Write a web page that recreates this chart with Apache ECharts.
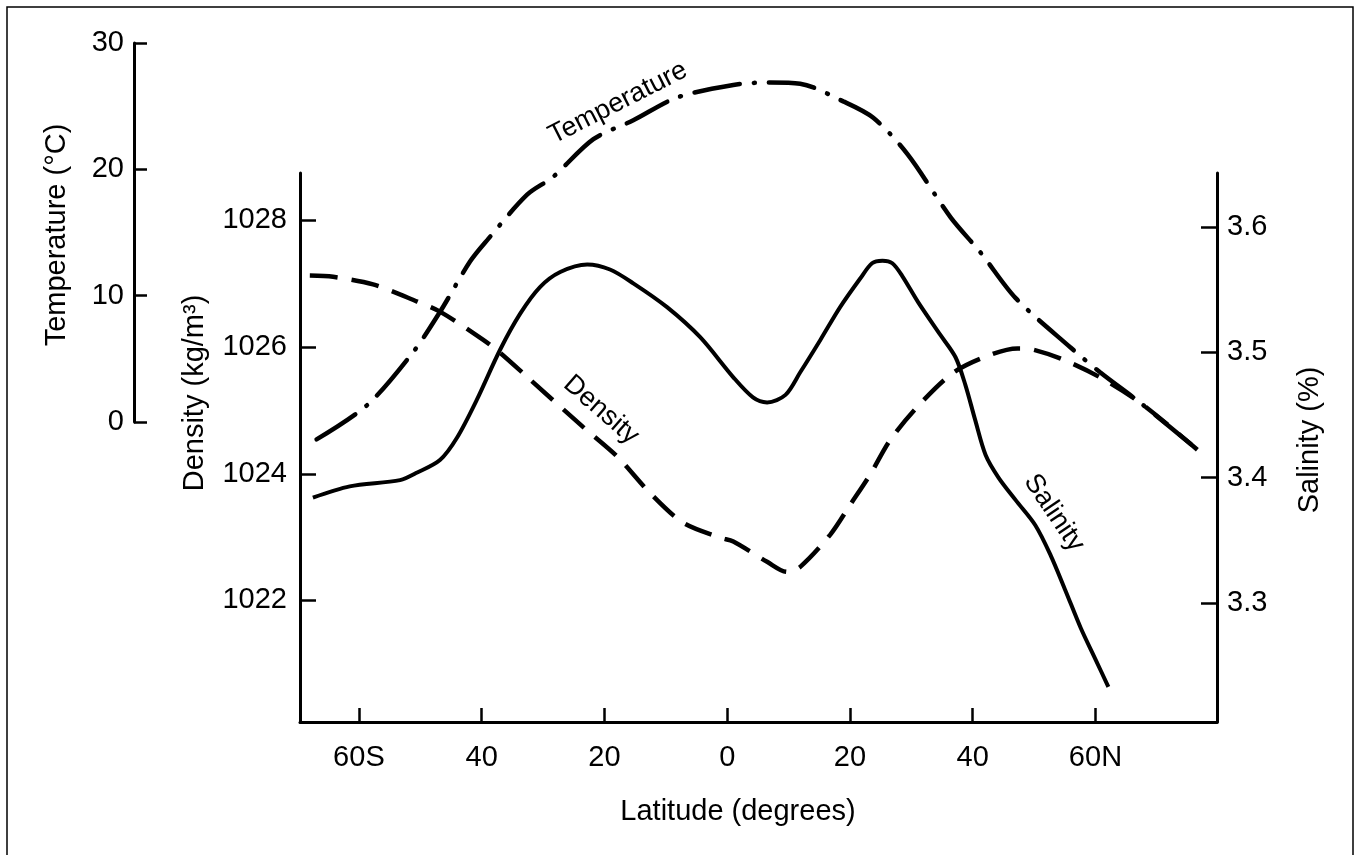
<!DOCTYPE html>
<html>
<head>
<meta charset="utf-8">
<script src="https://cdn.jsdelivr.net/npm/echarts@6/dist/echarts.min.js"></script>
<style>
  html, body { margin: 0; padding: 0; background: #fff; }
  #chart { width: 1362px; height: 855px; }
</style>
</head>
<body>
<div id="chart"></div>
<script>
// latitude in degrees, south negative
const tempLat = [-66.9, -58.7, -51.2, -46.8, -41.9, -39.1, -32.6, -28.4, -21.8, -15.3, -8.2, 1.0, 7.0, 11.9, 18.9, 23.8, 29.4, 36.4, 41.3, 47.0, 55.9, 60.8, 67.3, 76.6];
const tempVals = [-1.4, 1.3, 5.5, 8.7, 12.7, 14.4, 18.0, 19.4, 22.4, 23.9, 25.7, 26.7, 26.9, 26.8, 25.4, 24.1, 21.2, 16.2, 13.4, 9.8, 5.9, 3.9, 1.5, -2.2];

const densLat = [-68.0, -64.2, -57.7, -50.5, -46.8, -39.8, -37.0, -32.6, -23.5, -17.9, -12.6, -7.2, -1.1, 1.0, 6.5, 9.8, 11.9, 16.8, 20.1, 23.3, 26.6, 31.0, 36.9, 42.9, 47.3, 49.9, 54.8, 60.8, 67.3, 76.6];
const densVals = [1027.13, 1027.11, 1026.99, 1026.72, 1026.56, 1026.12, 1025.91, 1025.53, 1024.74, 1024.27, 1023.70, 1023.23, 1022.99, 1022.93, 1022.61, 1022.45, 1022.53, 1023.04, 1023.52, 1023.99, 1024.54, 1025.06, 1025.60, 1025.88, 1025.98, 1025.96, 1025.80, 1025.52, 1025.12, 1024.38];

const salLat = [-67.5, -61.5, -53.3, -50.5, -46.8, -44.0, -40.8, -37.0, -33.7, -30.5, -27.2, -22.8, -19.1, -15.3, -9.8, -4.4, 1.0, 4.2, 6.5, 9.5, 11.9, 15.2, 18.4, 21.7, 23.6, 25.3, 26.9, 28.5, 31.1, 34.7, 37.2, 38.8, 40.4, 42.1, 44.2, 47.0, 50.2, 52.7, 55.1, 57.6, 60.0, 62.1];
const salVals = [3.384, 3.393, 3.398, 3.404, 3.414, 3.432, 3.462, 3.502, 3.531, 3.552, 3.564, 3.570, 3.566, 3.555, 3.536, 3.512, 3.480, 3.464, 3.460, 3.466, 3.484, 3.510, 3.536, 3.559, 3.571, 3.573, 3.571, 3.561, 3.540, 3.514, 3.496, 3.474, 3.446, 3.418, 3.400, 3.382, 3.362, 3.338, 3.310, 3.280, 3.255, 3.233];

const latTicks = [-60, -40, -20, 0, 20, 40, 60];
const densTicks = [1022, 1024, 1026, 1028];
const salTicks = [3.3, 3.4, 3.5, 3.6];

const FONT = 'Liberation Sans, Arial, Helvetica, sans-serif';
const zip = (xs, ys) => xs.map((x, i) => [x, ys[i]]);

function latLabel(v) {
    if (v === -60) return '60S';
    if (v === 60) return '60N';
    return String(Math.abs(v));
}

const axisLine = { onZero: false, lineStyle: { color: '#000', width: 3 } };
const tickStyle = { color: '#000', width: 2.5 };
const labelStyle = { color: '#000', fontSize: 29, fontFamily: FONT };

const chart = echarts.init(document.getElementById('chart'));

chart.setOption({
    animation: false,
    backgroundColor: '#fff',
    grid: [
        { left: 300, top: 173, width: 917, height: 549 },
        { left: 134, top: 43, width: 10, height: 379 }
    ],
    xAxis: [
        {
            type: 'value', gridIndex: 0, min: -69.6, max: 79.8,
            axisLine: axisLine,
            axisTick: { show: true, inside: true, length: 14, lineStyle: tickStyle, customValues: latTicks },
            axisLabel: Object.assign({ margin: 21, customValues: latTicks, formatter: latLabel }, labelStyle),
            splitLine: { show: false }
        },
        { type: 'value', gridIndex: 1, show: false, min: 0, max: 1 }
    ],
    yAxis: [
        {   // density
            type: 'value', gridIndex: 0, position: 'left', min: 1020.08, max: 1028.75,
            axisLine: axisLine,
            axisTick: { show: true, inside: true, length: 16, lineStyle: tickStyle, customValues: densTicks },
            axisLabel: Object.assign({ margin: 13, customValues: densTicks, formatter: v => String(v) }, labelStyle),
            splitLine: { show: false }
        },
        {   // salinity
            type: 'value', gridIndex: 0, position: 'right', min: 3.205, max: 3.643,
            axisLine: axisLine,
            axisTick: { show: true, inside: true, length: 16, lineStyle: tickStyle, customValues: salTicks },
            axisLabel: Object.assign({ margin: 10, customValues: salTicks, formatter: v => v.toFixed(1) }, labelStyle),
            splitLine: { show: false }
        },
        {   // temperature scale on the main plot, not drawn
            type: 'value', gridIndex: 0, position: 'left', show: false, min: -23.81, max: 19.72
        },
        {   // temperature axis drawn at the far left
            type: 'value', gridIndex: 1, position: 'left', min: 0, max: 30, interval: 10,
            axisLine: axisLine,
            axisTick: { show: true, inside: true, length: 13, lineStyle: tickStyle },
            axisLabel: Object.assign({ margin: 10 }, labelStyle),
            splitLine: { show: false }
        }
    ],
    series: [
        {
            name: 'Temperature', type: 'line', xAxisIndex: 0, yAxisIndex: 2,
            data: zip(tempLat, tempVals),
            smooth: 0.3, symbol: 'none', clip: false,
            lineStyle: { color: '#000', width: 4.5, type: [46, 14, 1, 14], cap: 'round' }
        },
        {
            name: 'Density', type: 'line', xAxisIndex: 0, yAxisIndex: 0,
            data: zip(densLat, densVals),
            smooth: 0.3, symbol: 'none', clip: false,
            lineStyle: { color: '#000', width: 4.5, type: [28, 14] }
        },
        {
            name: 'Salinity', type: 'line', xAxisIndex: 0, yAxisIndex: 1,
            data: zip(salLat, salVals),
            smooth: 0.3, symbol: 'none', clip: false,
            lineStyle: { color: '#000', width: 4 }
        }
    ],
    graphic: [
        { type: 'rect', shape: { x: 7, y: 7, width: 1346, height: 900 }, style: { fill: 'none', stroke: '#000', lineWidth: 1.5 }, silent: true },
        { type: 'text', x: 57, y: 235, rotation: Math.PI / 2, style: { text: 'Temperature (°C)', fontSize: 29, fontFamily: FONT, fill: '#000', align: 'center', verticalAlign: 'middle' } },
        { type: 'text', x: 195, y: 393, rotation: Math.PI / 2, style: { text: 'Density (kg/m³)', fontSize: 29, fontFamily: FONT, fill: '#000', align: 'center', verticalAlign: 'middle' } },
        { type: 'text', x: 1310, y: 440, rotation: Math.PI / 2, style: { text: 'Salinity (%)', fontSize: 29, fontFamily: FONT, fill: '#000', align: 'center', verticalAlign: 'middle' } },
        { type: 'text', x: 738, y: 812, style: { text: 'Latitude (degrees)', fontSize: 29, fontFamily: FONT, fill: '#000', align: 'center', verticalAlign: 'middle' } },
        // labels written along the curves
        { type: 'text', x: 618, y: 103, rotation: 27 * Math.PI / 180, style: { text: 'Temperature', fontSize: 27, fontFamily: FONT, fill: '#000', align: 'center', verticalAlign: 'middle' } },
        { type: 'text', x: 601, y: 410, rotation: -41 * Math.PI / 180, style: { text: 'Density', fontSize: 27, fontFamily: FONT, fill: '#000', align: 'center', verticalAlign: 'middle' } },
        { type: 'text', x: 1054, y: 513, rotation: -56 * Math.PI / 180, style: { text: 'Salinity', fontSize: 27, fontFamily: FONT, fill: '#000', align: 'center', verticalAlign: 'middle' } }
    ]
});
</script>
</body>
</html>
